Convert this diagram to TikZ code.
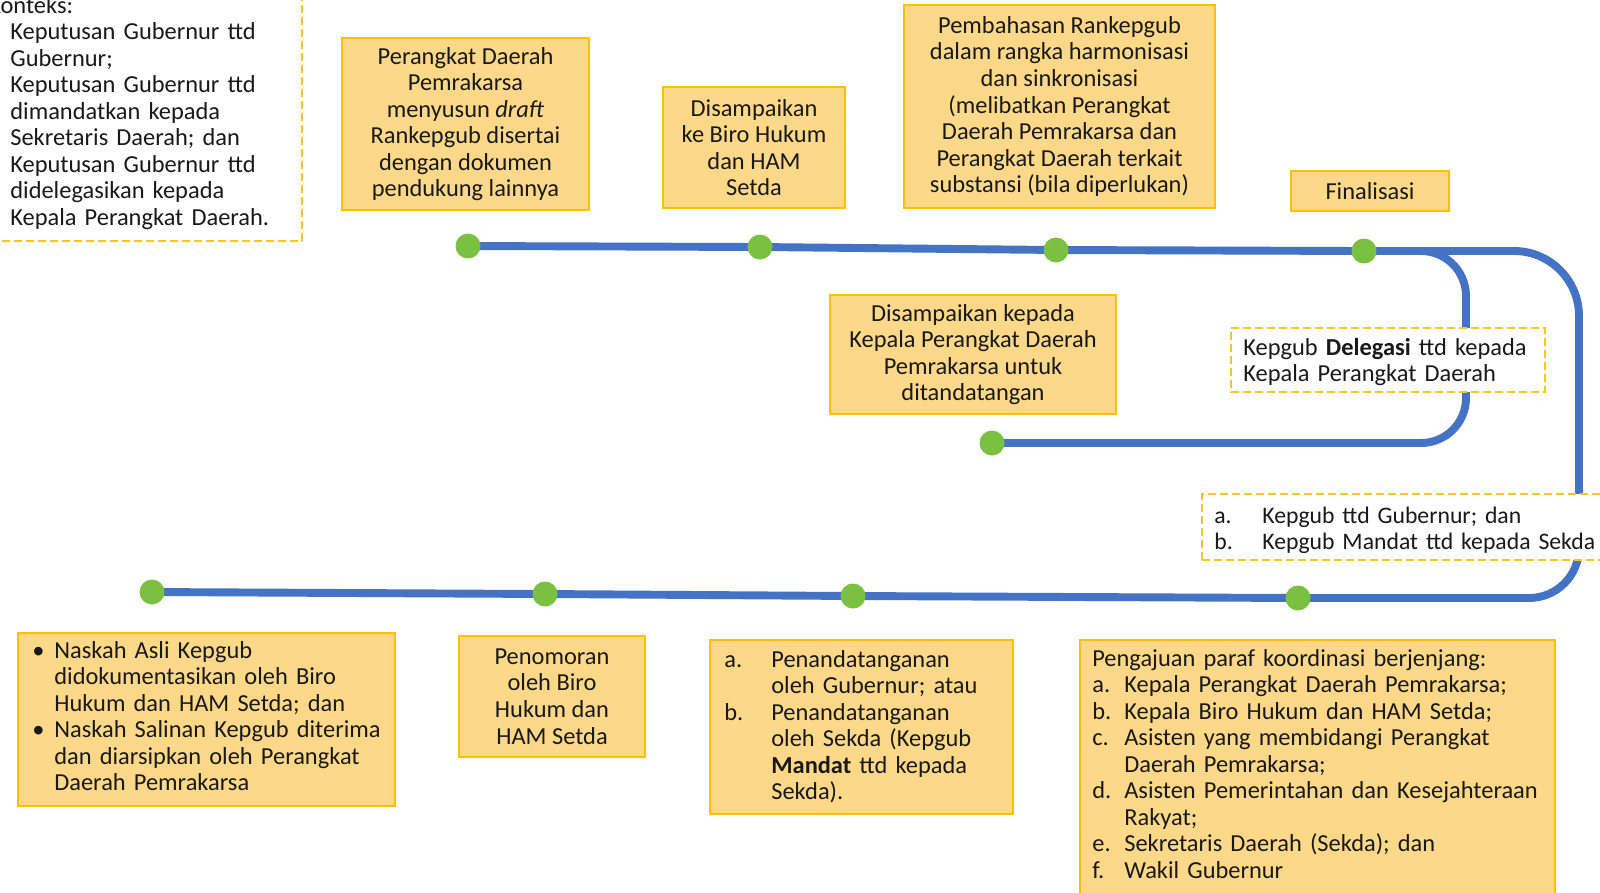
\documentclass[tikz,border=0pt]{standalone}
\usepackage{fontspec}
\setmainfont{Carlito}
\newlength\pxl
\setlength\pxl{0.02cm}
\definecolor{boxfill}{RGB}{253,216,136}
\definecolor{boxline}{RGB}{255,192,0}
\definecolor{flow}{RGB}{68,114,196}
\definecolor{dotg}{RGB}{122,193,66}
\definecolor{dashc}{RGB}{250,196,40}
\definecolor{ink}{RGB}{25,25,25}
\begin{document}
\begin{tikzpicture}[x=0.02cm,y=-0.02cm,
  font=\fontsize{13.9pt}{15.1pt}\selectfont, text=ink,
  box/.style={draw=boxline, fill=boxfill, line width=1.3pt, inner sep=0pt, align=center},
  dbox/.style={draw=dashc, fill=white, line width=1.1pt, dash pattern=on 0.16cm off 0.08cm, inner sep=0pt},
  sz/.style 2 args={minimum width=#1*0.02cm, minimum height=#2*0.02cm},
  txt/.style={inner sep=0pt, anchor=base west, align=left, text width=#1*0.02cm},
  flowline/.style={draw=flow, line width=4.5pt},
  dot/.style={circle, fill=dotg, inner sep=0pt, minimum size=0.5cm}]
\useasboundingbox (0,0) rectangle (1600,893);

% timeline points
\coordinate (p1) at (468,246);
\coordinate (p2) at (760,247);
\coordinate (p3) at (1056,250);
\coordinate (p4) at (1364,251);
\coordinate (p5) at (992,443);
\coordinate (p6) at (1298,598);
\coordinate (p7) at (853,596);
\coordinate (p8) at (545,594);
\coordinate (p9) at (152,592);
\coordinate (c1) at (1466,251);
\coordinate (c2) at (1466,443);
\coordinate (c3) at (1579,251);
\coordinate (c4) at (1579,598);

% lines
\draw[flowline] (p1) -- (p2) -- (p3) -- (p4);
\draw[flowline, rounded corners=0.9cm] (p4) -- (c1) -- (c2) -- (p5);
\draw[flowline] (p4) [rounded corners=1.3cm] -- (c3) [rounded corners=1.0cm] -- (c4) -- (p6) -- (p7) -- (p8) -- (p9);

% top-left context box
\node[dbox, sz={360}{300}, anchor=south east] (b0) at (303,242) {};
\node[txt=320] (t0) at (10,13) {\hspace*{-22\pxl}Konteks:\\Keputusan Gubernur ttd\\Gubernur;\\Keputusan Gubernur ttd\\dimandatkan kepada\\Sekretaris Daerah; dan\\Keputusan Gubernur ttd\\didelegasikan kepada\\Kepala Perangkat Daerah.};

% top boxes
\node[box, sz={247}{172}] (b1) at (465.5,124) {Perangkat Daerah\\Pemrakarsa\\menyusun \textit{draft}\\Rankepgub disertai\\dengan dokumen\\pendukung lainnya};
\node[box, sz={182}{121}] (b2) at (754,147.5) {Disampaikan\\ke Biro Hukum\\dan HAM\\Setda};
\node[box, sz={311}{203}] (b3) at (1059.5,106.5) {Pembahasan Rankepgub\\dalam rangka harmonisasi\\dan sinkronisasi\\(melibatkan Perangkat\\Daerah Pemrakarsa dan\\Perangkat Daerah terkait\\substansi (bila diperlukan)};
\node[box, sz={158}{40}] (b4) at (1370,191) {Finalisasi};

% middle
\node[box, sz={286}{119}] (b5) at (973,354.5) {Disampaikan kepada\\Kepala Perangkat Daerah\\Pemrakarsa untuk\\ditandatangan};
\node[dbox, sz={314}{64}] (b6) at (1388,360) {};
\node[txt=300] (t6) at (1243,355) {Kepgub \textbf{Delegasi} ttd kepada\\Kepala Perangkat Daerah};
\node[dbox, sz={418}{66}] (b7) at (1411,527) {};
\node[txt=400, font=\fontsize{13.5pt}{15.1pt}\selectfont] (t7) at (1214,523) {\makebox[48\pxl][l]{a.}Kepgub ttd Gubernur; dan\\\makebox[48\pxl][l]{b.}Kepgub Mandat ttd kepada Sekda};

% bottom boxes
\node[box, sz={377}{173}] (b8) at (206.5,719.5) {};
\node[txt=360] (t8) at (32,658) {\makebox[22\pxl][l]{\textbullet}Naskah Asli Kepgub\\\hspace*{22\pxl}didokumentasikan oleh Biro\\\hspace*{22\pxl}Hukum dan HAM Setda; dan\\\makebox[22\pxl][l]{\textbullet}Naskah Salinan Kepgub diterima\\\hspace*{22\pxl}dan diarsipkan oleh Perangkat\\\hspace*{22\pxl}Daerah Pemrakarsa};
\node[box, sz={186}{121}] (b9) at (552,696.5) {Penomoran\\oleh Biro\\Hukum dan\\HAM Setda};
\node[box, sz={303}{174}] (b10) at (861.5,727) {};
\node[txt=290] (t10) at (724,667) {\makebox[47\pxl][l]{a.}Penandatanganan\\\hspace*{47\pxl}oleh Gubernur; atau\\\makebox[47\pxl][l]{b.}Penandatanganan\\\hspace*{47\pxl}oleh Sekda (Kepgub\\\hspace*{47\pxl}\textbf{Mandat} ttd kepada\\\hspace*{47\pxl}Sekda).};
\node[box, sz={475}{270}] (b11) at (1317.5,775) {};
\node[txt=460] (t11) at (1092,666) {Pengajuan paraf koordinasi berjenjang:\\\makebox[32\pxl][l]{a.}Kepala Perangkat Daerah Pemrakarsa;\\\makebox[32\pxl][l]{b.}Kepala Biro Hukum dan HAM Setda;\\\makebox[32\pxl][l]{c.}Asisten yang membidangi Perangkat\\\hspace*{32\pxl}Daerah Pemrakarsa;\\\makebox[32\pxl][l]{d.}Asisten Pemerintahan dan Kesejahteraan\\\hspace*{32\pxl}Rakyat;\\\makebox[32\pxl][l]{e.}Sekretaris Daerah (Sekda); dan\\\makebox[32\pxl][l]{f.}Wakil Gubernur};

% dots
\node[dot] (d1) at (p1) {};
\node[dot] (d2) at (p2) {};
\node[dot] (d3) at (p3) {};
\node[dot] (d4) at (p4) {};
\node[dot] (d5) at (p5) {};
\node[dot] (d6) at (p6) {};
\node[dot] (d7) at (p7) {};
\node[dot] (d8) at (p8) {};
\node[dot] (d9) at (p9) {};
\end{tikzpicture}
\end{document}
